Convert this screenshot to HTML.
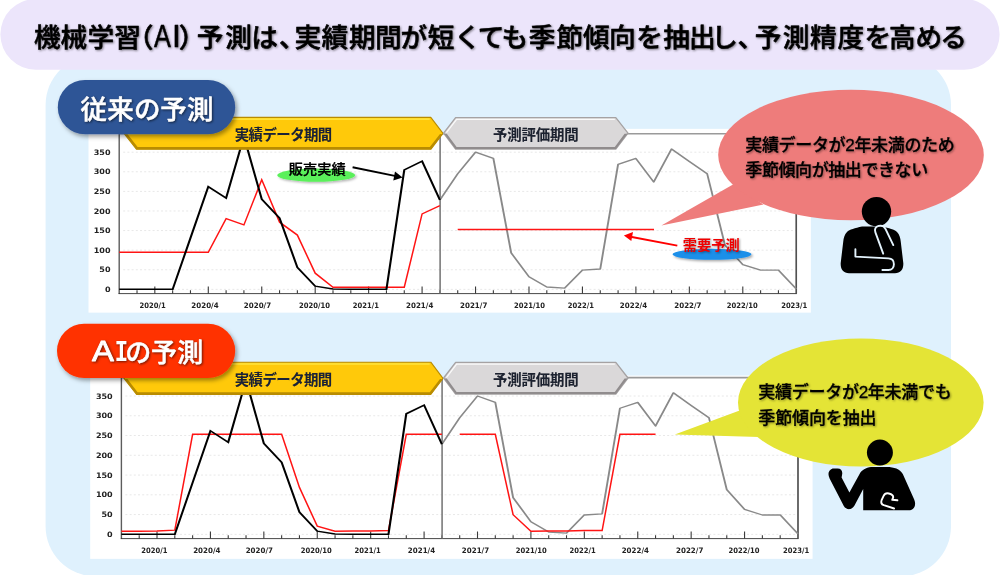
<!DOCTYPE html>
<html lang="ja">
<head>
<meta charset="utf-8">
<title>機械学習（AI）予測</title>
<style>
html,body{margin:0;padding:0;background:#fff;}
body{width:1000px;height:575px;overflow:hidden;}
svg{display:block;}
text{font-family:"Liberation Sans", "Noto Sans CJK JP", sans-serif;}
.num{font-family:"DejaVu Sans", "Liberation Sans", sans-serif;font-weight:bold;font-size:7.5px;fill:#222;}
.ban{font-weight:bold;font-size:14.4px;filter:drop-shadow(0.8px 0.8px 0.6px rgba(0,0,0,.35));}
.title{font-weight:500;font-size:26.8px;fill:#000;stroke:#000;stroke-width:.55px;stroke-linejoin:round;filter:drop-shadow(1.2px 1.4px 1.2px rgba(0,0,0,.45));}
.pill{font-weight:500;font-size:26.6px;fill:#fff;stroke:#fff;stroke-width:.5px;stroke-linejoin:round;filter:drop-shadow(1.2px 1.5px 1.2px rgba(0,0,0,.55));}
.bub{font-weight:500;font-size:17px;fill:#000;stroke:#000;stroke-width:.3px;filter:drop-shadow(1px 1.2px 1px rgba(0,0,0,.4));}
.tag{font-weight:bold;font-size:14.4px;}
</style>
</head>
<body>
<svg width="1000" height="575" viewBox="0 0 1000 575">
<defs>
<filter id="sh" x="-10%" y="-20%" width="125%" height="150%"><feDropShadow dx="2" dy="2.5" stdDeviation="2" flood-color="#000" flood-opacity=".38"/></filter>
<filter id="soft" x="-10%" y="-40%" width="120%" height="180%"><feGaussianBlur stdDeviation="0.9"/></filter>
<filter id="softsh2" x="-10%" y="-40%" width="125%" height="200%"><feGaussianBlur stdDeviation="0.7" result="b"/><feDropShadow in="b" dx="1.6" dy="1.4" stdDeviation="1" flood-color="#000" flood-opacity=".3"/></filter>
<filter id="softsh" x="-10%" y="-40%" width="125%" height="200%"><feDropShadow dx="1.5" dy="1.5" stdDeviation="1.2" flood-color="#000" flood-opacity=".35"/></filter>
</defs>

<rect x="45.6" y="55" width="905.4" height="521.4" rx="50" ry="50" fill="#dff1fd"/>
<rect x="0.4" y="-1" width="999.2" height="70.7" rx="35.3" ry="35.3" fill="#ece5fb"/>
<g id="chart1">
<rect x="88.5" y="128.85" width="722.35" height="183.8" fill="#fff"/>
<line x1="123.2" y1="289.35" x2="796.25" y2="289.35" stroke="#e8e8e8" stroke-width="1" stroke-dasharray="2 2.2"/>
<line x1="123.2" y1="269.75" x2="796.25" y2="269.75" stroke="#e8e8e8" stroke-width="1" stroke-dasharray="2 2.2"/>
<line x1="123.2" y1="250.16" x2="796.25" y2="250.16" stroke="#e8e8e8" stroke-width="1" stroke-dasharray="2 2.2"/>
<line x1="123.2" y1="230.57" x2="796.25" y2="230.57" stroke="#e8e8e8" stroke-width="1" stroke-dasharray="2 2.2"/>
<line x1="123.2" y1="210.97" x2="796.25" y2="210.97" stroke="#e8e8e8" stroke-width="1" stroke-dasharray="2 2.2"/>
<line x1="123.2" y1="191.38" x2="796.25" y2="191.38" stroke="#e8e8e8" stroke-width="1" stroke-dasharray="2 2.2"/>
<line x1="123.2" y1="171.78" x2="796.25" y2="171.78" stroke="#e8e8e8" stroke-width="1" stroke-dasharray="2 2.2"/>
<line x1="123.2" y1="152.19" x2="796.25" y2="152.19" stroke="#e8e8e8" stroke-width="1" stroke-dasharray="2 2.2"/>
<path d="M119.2 133.75H796.25V293.6" fill="none" stroke="#9a9a9a" stroke-width="1.7"/>
<line x1="119.2" y1="133.75" x2="119.2" y2="293.9" stroke="#5c5c5c" stroke-width="1.4"/>
<line x1="796.25" y1="163.75" x2="796.25" y2="293.6" stroke="#444" stroke-width="1.2"/>
<path d="M137.02 293.6v-3.4M154.83 293.6v-7.2M172.65 293.6v-3.4M190.47 293.6v-3.4M208.29 293.6v-7.2M226.1 293.6v-3.4M243.92 293.6v-3.4M261.74 293.6v-7.2M279.55 293.6v-3.4M297.37 293.6v-3.4M315.19 293.6v-7.2M333 293.6v-3.4M350.82 293.6v-3.4M368.64 293.6v-7.2M386.45 293.6v-3.4M404.27 293.6v-3.4M422.09 293.6v-7.2M439.91 293.6v-3.4M457.72 293.6v-3.4M475.54 293.6v-7.2M493.36 293.6v-3.4M511.17 293.6v-3.4M528.99 293.6v-7.2M546.81 293.6v-3.4M564.62 293.6v-3.4M582.44 293.6v-7.2M600.26 293.6v-3.4M618.08 293.6v-3.4M635.89 293.6v-7.2M653.71 293.6v-3.4M671.53 293.6v-3.4M689.34 293.6v-7.2M707.16 293.6v-3.4M724.98 293.6v-3.4M742.8 293.6v-7.2M760.61 293.6v-3.4M778.43 293.6v-3.4" stroke="#3a3a3a" stroke-width="1.1" fill="none"/>
<line x1="118.6" y1="293.6" x2="796.85" y2="293.6" stroke="#333" stroke-width="0.9"/>
<line x1="440.11" y1="133.75" x2="440.11" y2="293.6" stroke="#7a7a7a" stroke-width="1.6"/>
<text x="110.5" y="291.95" text-anchor="end" class="num" textLength="5.6" lengthAdjust="spacingAndGlyphs">0</text>
<text x="110.5" y="272.36" text-anchor="end" class="num" textLength="11.2" lengthAdjust="spacingAndGlyphs">50</text>
<text x="110.5" y="252.76" text-anchor="end" class="num" textLength="16.8" lengthAdjust="spacingAndGlyphs">100</text>
<text x="110.5" y="233.17" text-anchor="end" class="num" textLength="16.8" lengthAdjust="spacingAndGlyphs">150</text>
<text x="110.5" y="213.57" text-anchor="end" class="num" textLength="16.8" lengthAdjust="spacingAndGlyphs">200</text>
<text x="110.5" y="193.97" text-anchor="end" class="num" textLength="16.8" lengthAdjust="spacingAndGlyphs">250</text>
<text x="110.5" y="174.38" text-anchor="end" class="num" textLength="16.8" lengthAdjust="spacingAndGlyphs">300</text>
<text x="110.5" y="154.78" text-anchor="end" class="num" textLength="16.8" lengthAdjust="spacingAndGlyphs">350</text>
<text x="152.6" y="308.15" text-anchor="middle" class="num" textLength="26.2" lengthAdjust="spacingAndGlyphs">2020/1</text>
<text x="205" y="308.15" text-anchor="middle" class="num" textLength="27.3" lengthAdjust="spacingAndGlyphs">2020/4</text>
<text x="257.5" y="308.15" text-anchor="middle" class="num" textLength="27.3" lengthAdjust="spacingAndGlyphs">2020/7</text>
<text x="314.5" y="308.15" text-anchor="middle" class="num" textLength="31" lengthAdjust="spacingAndGlyphs">2020/10</text>
<text x="365.8" y="308.15" text-anchor="middle" class="num" textLength="26.2" lengthAdjust="spacingAndGlyphs">2021/1</text>
<text x="419.7" y="308.15" text-anchor="middle" class="num" textLength="27.3" lengthAdjust="spacingAndGlyphs">2021/4</text>
<text x="473.7" y="308.15" text-anchor="middle" class="num" textLength="27.3" lengthAdjust="spacingAndGlyphs">2021/7</text>
<text x="529.4" y="308.15" text-anchor="middle" class="num" textLength="31" lengthAdjust="spacingAndGlyphs">2021/10</text>
<text x="580.8" y="308.15" text-anchor="middle" class="num" textLength="26.2" lengthAdjust="spacingAndGlyphs">2022/1</text>
<text x="633.5" y="308.15" text-anchor="middle" class="num" textLength="27.3" lengthAdjust="spacingAndGlyphs">2022/4</text>
<text x="687.9" y="308.15" text-anchor="middle" class="num" textLength="27.3" lengthAdjust="spacingAndGlyphs">2022/7</text>
<text x="742.25" y="308.15" text-anchor="middle" class="num" textLength="31" lengthAdjust="spacingAndGlyphs">2022/10</text>
<text x="794.25" y="308.15" text-anchor="middle" class="num" textLength="26.2" lengthAdjust="spacingAndGlyphs">2023/1</text>
<g transform="scale(1 0.7)" fill="none" stroke-linejoin="miter">
<polyline points="439.91,285.71 457.72,248.2 475.54,217.41 493.36,226.36 511.17,361.29 528.99,395.44 546.81,410 564.62,411.68 582.44,385.92 600.26,384.24 618.08,234.76 635.89,226.36 653.71,259.96 671.53,212.93 689.34,230.84 707.16,248.2 724.98,350.09 742.8,378.09 760.61,385.92 778.43,385.92 796.25,412.8" stroke="#898989" stroke-width="1.9" stroke-linejoin="round"/>
<polyline points="119.2,252.12 137.02,252.12 154.83,252.12 172.65,252.12 190.47,252.12 208.29,252.12 226.1,218.42 243.92,224.69 261.74,179.62 279.55,221.94 297.37,234.88 315.19,272.89 333,287 350.82,287 368.64,287 386.45,287 404.27,287 422.09,213.71 439.91,205.48" stroke="#ff1414" stroke-width="1.5" transform="scale(1 1.43)"/>
<line x1="457.72" y1="229.39" x2="654.01" y2="229.39" stroke="#ff1414" stroke-width="1.5" transform="scale(1 1.43)"/>
<polyline points="119.2,413.36 137.02,413.36 154.83,413.36 172.65,413.36 190.47,340.02 208.29,266.67 226.1,282.91 243.92,195.01 261.74,284.59 279.55,311.46 297.37,382.01 315.19,408.88 333,412.8 350.82,413.36 368.64,413.36 386.45,413.36 404.27,242.6 422.09,230.28 439.91,285.71" stroke="#000" stroke-width="2.1"/>
</g>
</g>
<g id="chart2">
<rect x="90.2" y="375.55" width="722.39" height="183.3" fill="#fff"/>
<line x1="125.4" y1="534.35" x2="797.99" y2="534.35" stroke="#e8e8e8" stroke-width="1" stroke-dasharray="2 2.2"/>
<line x1="125.4" y1="514.59" x2="797.99" y2="514.59" stroke="#e8e8e8" stroke-width="1" stroke-dasharray="2 2.2"/>
<line x1="125.4" y1="494.82" x2="797.99" y2="494.82" stroke="#e8e8e8" stroke-width="1" stroke-dasharray="2 2.2"/>
<line x1="125.4" y1="475.06" x2="797.99" y2="475.06" stroke="#e8e8e8" stroke-width="1" stroke-dasharray="2 2.2"/>
<line x1="125.4" y1="455.29" x2="797.99" y2="455.29" stroke="#e8e8e8" stroke-width="1" stroke-dasharray="2 2.2"/>
<line x1="125.4" y1="435.53" x2="797.99" y2="435.53" stroke="#e8e8e8" stroke-width="1" stroke-dasharray="2 2.2"/>
<line x1="125.4" y1="415.76" x2="797.99" y2="415.76" stroke="#e8e8e8" stroke-width="1" stroke-dasharray="2 2.2"/>
<line x1="125.4" y1="396" x2="797.99" y2="396" stroke="#e8e8e8" stroke-width="1" stroke-dasharray="2 2.2"/>
<path d="M121.4 377.65H797.99V538.6" fill="none" stroke="#9a9a9a" stroke-width="1.7"/>
<line x1="121.4" y1="377.65" x2="121.4" y2="538.9" stroke="#5c5c5c" stroke-width="1.4"/>
<line x1="797.99" y1="407.65" x2="797.99" y2="538.6" stroke="#444" stroke-width="1.2"/>
<path d="M139.21 538.6v-3.4M157.01 538.6v-7.2M174.81 538.6v-3.4M192.62 538.6v-3.4M210.43 538.6v-7.2M228.23 538.6v-3.4M246.03 538.6v-3.4M263.84 538.6v-7.2M281.64 538.6v-3.4M299.45 538.6v-3.4M317.25 538.6v-7.2M335.06 538.6v-3.4M352.87 538.6v-3.4M370.67 538.6v-7.2M388.48 538.6v-3.4M406.28 538.6v-3.4M424.09 538.6v-7.2M441.89 538.6v-3.4M459.7 538.6v-3.4M477.5 538.6v-7.2M495.3 538.6v-3.4M513.11 538.6v-3.4M530.91 538.6v-7.2M548.72 538.6v-3.4M566.52 538.6v-3.4M584.33 538.6v-7.2M602.13 538.6v-3.4M619.94 538.6v-3.4M637.75 538.6v-7.2M655.55 538.6v-3.4M673.36 538.6v-3.4M691.16 538.6v-7.2M708.96 538.6v-3.4M726.77 538.6v-3.4M744.57 538.6v-7.2M762.38 538.6v-3.4M780.18 538.6v-3.4" stroke="#3a3a3a" stroke-width="1.1" fill="none"/>
<line x1="120.8" y1="538.6" x2="798.59" y2="538.6" stroke="#333" stroke-width="0.9"/>
<line x1="442.09" y1="377.65" x2="442.09" y2="538.6" stroke="#7a7a7a" stroke-width="1.6"/>
<text x="112.7" y="536.95" text-anchor="end" class="num" textLength="5.6" lengthAdjust="spacingAndGlyphs">0</text>
<text x="112.7" y="517.19" text-anchor="end" class="num" textLength="11.2" lengthAdjust="spacingAndGlyphs">50</text>
<text x="112.7" y="497.42" text-anchor="end" class="num" textLength="16.8" lengthAdjust="spacingAndGlyphs">100</text>
<text x="112.7" y="477.66" text-anchor="end" class="num" textLength="16.8" lengthAdjust="spacingAndGlyphs">150</text>
<text x="112.7" y="457.89" text-anchor="end" class="num" textLength="16.8" lengthAdjust="spacingAndGlyphs">200</text>
<text x="112.7" y="438.13" text-anchor="end" class="num" textLength="16.8" lengthAdjust="spacingAndGlyphs">250</text>
<text x="112.7" y="418.36" text-anchor="end" class="num" textLength="16.8" lengthAdjust="spacingAndGlyphs">300</text>
<text x="112.7" y="398.6" text-anchor="end" class="num" textLength="16.8" lengthAdjust="spacingAndGlyphs">350</text>
<text x="154.4" y="552.95" text-anchor="middle" class="num" textLength="26.2" lengthAdjust="spacingAndGlyphs">2020/1</text>
<text x="206.8" y="552.95" text-anchor="middle" class="num" textLength="27.3" lengthAdjust="spacingAndGlyphs">2020/4</text>
<text x="259.3" y="552.95" text-anchor="middle" class="num" textLength="27.3" lengthAdjust="spacingAndGlyphs">2020/7</text>
<text x="316.3" y="552.95" text-anchor="middle" class="num" textLength="31" lengthAdjust="spacingAndGlyphs">2020/10</text>
<text x="367.6" y="552.95" text-anchor="middle" class="num" textLength="26.2" lengthAdjust="spacingAndGlyphs">2021/1</text>
<text x="421.5" y="552.95" text-anchor="middle" class="num" textLength="27.3" lengthAdjust="spacingAndGlyphs">2021/4</text>
<text x="475.5" y="552.95" text-anchor="middle" class="num" textLength="27.3" lengthAdjust="spacingAndGlyphs">2021/7</text>
<text x="531.2" y="552.95" text-anchor="middle" class="num" textLength="31" lengthAdjust="spacingAndGlyphs">2021/10</text>
<text x="582.6" y="552.95" text-anchor="middle" class="num" textLength="26.2" lengthAdjust="spacingAndGlyphs">2022/1</text>
<text x="635.3" y="552.95" text-anchor="middle" class="num" textLength="27.3" lengthAdjust="spacingAndGlyphs">2022/4</text>
<text x="689.7" y="552.95" text-anchor="middle" class="num" textLength="27.3" lengthAdjust="spacingAndGlyphs">2022/7</text>
<text x="744.05" y="552.95" text-anchor="middle" class="num" textLength="31" lengthAdjust="spacingAndGlyphs">2022/10</text>
<text x="796.05" y="552.95" text-anchor="middle" class="num" textLength="26.2" lengthAdjust="spacingAndGlyphs">2023/1</text>
<g transform="scale(1 0.7)" fill="none" stroke-linejoin="miter">
<polyline points="441.89,634.6 459.7,596.77 477.5,565.71 495.3,574.74 513.11,710.84 530.91,745.29 548.72,759.97 566.52,761.66 584.33,735.69 602.13,733.99 619.94,583.21 637.75,574.74 655.55,608.63 673.36,561.19 691.16,579.26 708.96,596.77 726.77,699.54 744.57,727.78 762.38,735.69 780.18,735.69 797.99,762.79" stroke="#898989" stroke-width="1.9" stroke-linejoin="round"/>
<polyline points="121.4,530.79 139.21,530.79 157.01,530.4 174.81,529.61 192.62,433.94 210.43,433.94 228.23,433.94 246.03,433.94 263.84,433.94 281.64,433.94 299.45,486.91 317.25,525.65 335.06,530.79 352.87,530.4 370.67,530.4 388.48,530 406.28,433.94 424.09,433.94 441.89,433.94" stroke="#ff1414" stroke-width="1.5" transform="scale(1 1.43)"/>
<polyline points="459.7,433.94 477.5,433.94 495.3,433.94 513.11,514.19 530.91,530.79 548.72,530.4 566.52,530.4 584.33,530 602.13,530 619.94,433.94 637.75,433.94 655.55,433.94" stroke="#ff1414" stroke-width="1.5" transform="scale(1 1.43)"/>
<polyline points="121.4,763.36 139.21,763.36 157.01,763.36 174.81,763.36 192.62,689.38 210.43,615.4 228.23,631.78 246.03,543.12 263.84,633.47 281.64,660.58 299.45,731.73 317.25,758.84 335.06,762.79 352.87,763.36 370.67,763.36 388.48,763.36 406.28,591.12 424.09,578.7 441.89,634.6" stroke="#000" stroke-width="2.1"/>
</g>
</g>
<polygon points="434,127.55 452,127.55 443.3,134.05" fill="#dff1fd"/>
<polygon points="124,133.35 136.6,117.4 430.8,117.4 443,133.35 430.8,149.3 136.6,149.3" fill="#ffc90a" stroke="#b98c00" stroke-width="1.1" stroke-linejoin="round"/>
<polygon points="127.4,133.95 137.6,147.1 429.8,147.1 440,133.95 442.4,133.95 430.8,149.3 136.6,149.3 124.6,133.95" fill="#b98c00"/>
<polyline points="127.2,132.75 137.7,119.2 429.7,119.2" fill="none" stroke="#ffe43c" stroke-width="1.7"/>
<polygon points="443.6,133.05 455.6,117.6 615.8,117.6 628,133.05 615.8,149 455.6,149" fill="#dad8d9" stroke="#a5a2a3" stroke-width="1.3" stroke-linejoin="round"/>
<polygon points="446.8,133.65 456.6,147 614.8,147 624.6,133.65 627.4,133.65 615.8,149 455.6,149 444.2,133.65" fill="#908c8d"/>
<polyline points="446.4,132.65 456.6,119.3 614.8,119.3" fill="none" stroke="#fafafa" stroke-width="1.3"/>
<text x="283.5" y="139.6" text-anchor="middle" class="ban" fill="#1a2238" textLength="97.5" lengthAdjust="spacing">実績データ期間</text>
<text x="535.8" y="139.8" text-anchor="middle" class="ban" fill="#1c2230" textLength="85.8" lengthAdjust="spacing">予測評価期間</text>
<polygon points="434,372.5 452,372.5 443.3,379" fill="#dff1fd"/>
<polygon points="124,378.3 136.6,362.2 430.8,362.2 443,378.3 430.8,394.4 136.6,394.4" fill="#ffc90a" stroke="#b98c00" stroke-width="1.1" stroke-linejoin="round"/>
<polygon points="127.4,378.9 137.6,392.2 429.8,392.2 440,378.9 442.4,378.9 430.8,394.4 136.6,394.4 124.6,378.9" fill="#b98c00"/>
<polyline points="127.2,377.7 137.7,364 429.7,364" fill="none" stroke="#ffe43c" stroke-width="1.7"/>
<polygon points="443.6,378 455.6,362.4 615.8,362.4 628,378 615.8,394.1 455.6,394.1" fill="#dad8d9" stroke="#a5a2a3" stroke-width="1.3" stroke-linejoin="round"/>
<polygon points="446.8,378.6 456.6,392.1 614.8,392.1 624.6,378.6 627.4,378.6 615.8,394.1 455.6,394.1 444.2,378.6" fill="#908c8d"/>
<polyline points="446.4,377.6 456.6,364.1 614.8,364.1" fill="none" stroke="#fafafa" stroke-width="1.3"/>
<text x="283.5" y="384.55" text-anchor="middle" class="ban" fill="#1a2238" textLength="97.5" lengthAdjust="spacing">実績データ期間</text>
<text x="535.8" y="384.75" text-anchor="middle" class="ban" fill="#1c2230" textLength="85.8" lengthAdjust="spacing">予測評価期間</text>
<rect x="57.8" y="80" width="177.4" height="54.3" rx="27.15" fill="#2f5496" filter="url(#sh)"/>
<text y="118.8" x="80.4 107.2 133.9 160.2 186.9" class="pill" style="font-size:26.5px">従来の予測</text>
<rect x="57" y="323.8" width="178.2" height="54.3" rx="27.15" fill="#ff3200" filter="url(#sh)"/>
<text class="pill" style="font-size:28.6px;font-weight:400;stroke-width:.8px" transform="translate(92.1 361.4) scale(1.15 1)">A</text>
<text class="pill" style="font-family:'Liberation Mono',monospace;font-size:30.4px;font-weight:700;stroke-width:0" transform="translate(114.8 361.4) scale(0.73 1)">I</text>
<text y="361.7" x="125.3 151.1 177.3" class="pill" style="font-size:26px">の予測</text>
<ellipse cx="316.2" cy="175.2" rx="39" ry="6.6" fill="#5af05a" filter="url(#softsh2)"/>
<text x="317.3" y="173.6" text-anchor="middle" class="tag" fill="#000" style="font-weight:500;font-size:14.2px;stroke:#000;stroke-width:.2px;filter:drop-shadow(.8px .8px .6px rgba(0,0,0,.4))" textLength="57" lengthAdjust="spacing">販売実績</text>
<path d="M352.6 167.3L396 176.1" stroke="#000" stroke-width="1.9" fill="none"/>
<polygon points="402.6,177.4 393.3,180.4 395,171.4" fill="#000"/>
<ellipse cx="712" cy="254.3" rx="39.5" ry="5.5" fill="#1e8fe9" filter="url(#softsh)"/>
<text x="711.2" y="250" text-anchor="middle" class="tag" fill="#f00000" style="font-size:14.2px;filter:drop-shadow(1px 1px .8px rgba(0,0,0,.4))" textLength="57" lengthAdjust="spacing">需要予測</text>
<path d="M677.3 245.6L630.5 236.7" stroke="#f00" stroke-width="1.9" fill="none"/>
<polygon points="623.9,235.4 633,231.9 631.3,240.9" fill="#f00"/>
<path d="M661.4 225.6L733 184.5L763.5 204.5Z" fill="#ee7c7b"/>
<ellipse cx="851" cy="155" rx="132.8" ry="65.2" fill="#ee7c7b"/>
<text x="745.3" y="150.8" class="bub" textLength="209.4" lengthAdjust="spacing">実績データが2年未満のため</text>
<text x="745.3" y="176.3" class="bub" textLength="182.9" lengthAdjust="spacing">季節傾向が抽出できない</text>
<path d="M674.8 434.4L741 410L759 437Z" fill="#e4e436"/>
<ellipse cx="860.8" cy="402.5" rx="122.8" ry="64" fill="#e4e436"/>
<text x="758.3" y="398.2" class="bub" textLength="193.4" lengthAdjust="spacing">実績データが2年未満でも</text>
<text x="758.3" y="424.3" class="bub" textLength="118.2" lengthAdjust="spacing">季節傾向を抽出</text>
<g id="p1">
<circle cx="876.5" cy="211.6" r="14.7" fill="#000"/>
<path d="M862 226.5C855 228 849.5 229.5 847 232C844.5 234.5 843.6 238 843.2 242L840.7 263C840.3 269.5 843.5 273.2 849 273.2H895C900.5 273.2 903.7 269.5 903.3 263L900.8 242C900.4 238 899.5 234.5 897 232C894.5 229.5 889 228 882 226.5Z" fill="#000"/>
<path d="M883.2 253.7L875.4 232.4C874.2 229 875.6 226.6 878.6 225.9C881.6 225.2 884.2 226.2 885.6 229.2L893.3 245.1" fill="none" stroke="#e4f3fd" stroke-width="1.9" stroke-linecap="round"/>
<path d="M855.4 249.2V256.6L888.4 258.4C892 258.6 893.9 261 893.9 264.2C893.9 267.6 891.8 270 888.4 270H882.4" fill="none" stroke="#e4f3fd" stroke-width="1.9" stroke-linecap="round" stroke-linejoin="round"/>
</g>
<g id="p2">
<circle cx="879.9" cy="452.6" r="13" fill="#000"/>
<path d="M863.2 510.3V489L854.5 505.5C852 510 846.5 510.5 843.8 506L829.6 478.5C827.4 474 828.4 470 832.6 468.6H837.6C841 468.6 842.6 471 842.2 474L841.6 477.5L849.4 492.5L860.4 472.6C863.2 468.6 867.6 467 873 466.9H887C894 466.9 899.8 468.8 902.8 474L914.2 499.5C916.6 505 914.2 510.3 908.6 510.3Z" fill="#000"/>
<path d="M894.1 508.5L883.8 505.2C881.6 504.4 880.8 502.4 881.6 500.2L883.6 495.8C884.6 493.8 886.6 493 888.8 493.5C891.6 494.2 893.4 495.6 893.2 497.4L892.2 499.8L897.4 500.3" fill="none" stroke="#fff" stroke-width="1.9" stroke-linecap="round" stroke-linejoin="round"/>
</g>
<g id="title">
<text class="title" style="font-size:26.7px" y="46.5" x="33.9 60.6 87.5 114.2 126.8">機械学習（</text>
<text class="title" style="font-size:32px;font-weight:400" transform="translate(154.1 46.5) scale(0.79 1)">A</text>
<text class="title" style="font-size:32px;font-weight:400" transform="translate(171.9 46.5)">I</text>
<text class="title" style="font-size:26.7px" y="46.5" x="178.7 196.8 225.2 251.2 279.0 294.6 321.6 349.1 375.1 400.6 427.7 454.2 477.7 501.4 528.7 556.4 583.1 609.1 636.2 663.3 689.1 711.2 737.5 754.8 782.7 810.0 837.5 864.4 889.1 915.6 940.2">）予測は、実績期間が短くても季節傾向を抽出し、予測精度を高める</text>
</g>
</svg>
</body>
</html>
